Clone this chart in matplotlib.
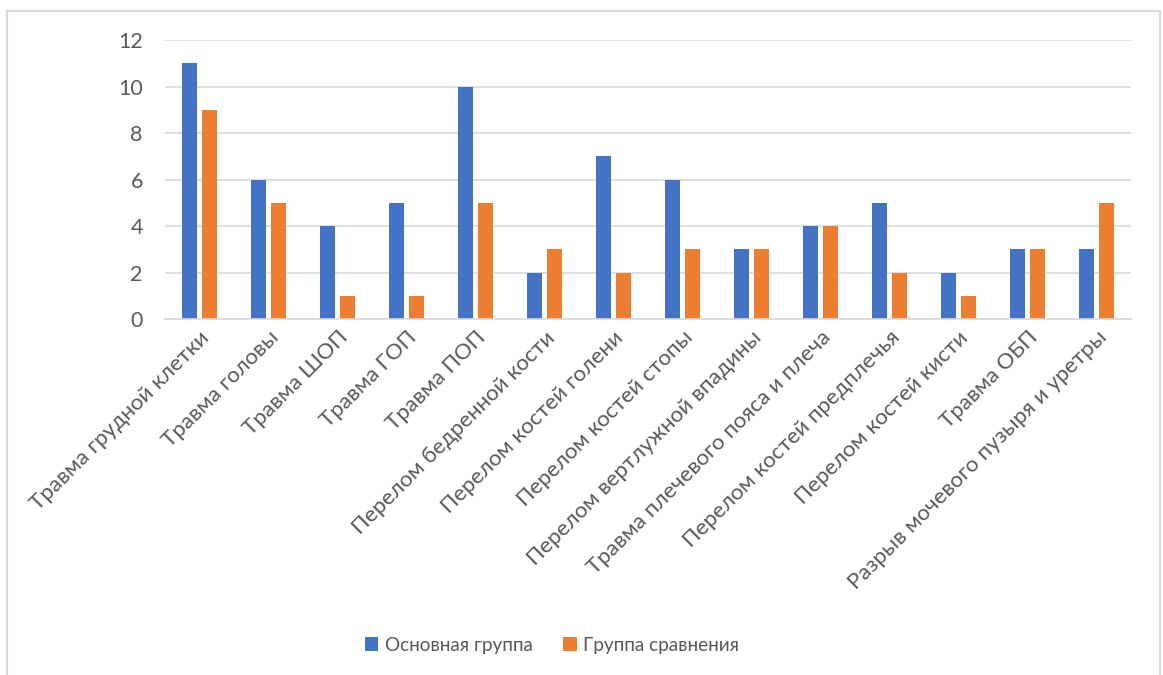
import numpy as np
import matplotlib.pyplot as plt
from matplotlib.patches import Rectangle

plt.rcParams['font.family'] = ['Lato', 'DejaVu Sans']

categories = ['Травма грудной клетки', 'Травма головы', 'Травма ШОП', 'Травма ГОП',
              'Травма ПОП', 'Перелом бедренной кости', 'Перелом костей голени',
              'Перелом костей стопы', 'Перелом вертлужной впадины',
              'Травма плечевого пояса и плеча', 'Перелом костей предплечья',
              'Перелом костей кисти', 'Травма ОБП', 'Разрыв мочевого пузыря и уретры']
main_group = [11, 6, 4, 5, 10, 2, 7, 6, 3, 4, 5, 2, 3, 3]
compare_group = [9, 5, 1, 1, 5, 3, 2, 3, 3, 4, 2, 1, 3, 5]

W, H = 1163, 675
fig = plt.figure(figsize=(W / 100, H / 100), dpi=100)
ax = fig.add_axes([165 / W, 1 - 319 / H, (1131 - 165) / W, (319 - 40) / H])

x = np.arange(len(categories))
bw = 0.22
ax.bar(x - 0.145, main_group, bw, color='#4472c4', label='Основная группа')
ax.bar(x + 0.145, compare_group, bw, color='#ed7d31', label='Группа сравнения')

ax.set_xlim(-0.5, len(categories) - 0.5)
ax.set_ylim(0, 12)
ax.set_yticks(range(0, 13, 2))
ax.yaxis.grid(True, color='#d9d9d9', lw=1.2)
ax.set_axisbelow(True)
for s in ['top', 'right', 'left']:
    ax.spines[s].set_visible(False)
ax.spines['bottom'].set_color('#d9d9d9')
ax.spines['bottom'].set_linewidth(1.2)
ax.tick_params(axis='y', length=0, labelsize=15.5, colors='#595959', pad=16)
ax.set_xticks(x)
ax.set_xticklabels(categories, rotation=45, ha='right', rotation_mode='anchor')
ax.tick_params(axis='x', length=0, labelsize=16, colors='#595959', pad=6)

fig.legend(loc='center', bbox_to_anchor=(552 / W, 1 - 645 / H), ncol=2, frameon=False,
           fontsize=13.6, handlelength=0.72, handleheight=0.72, handletextpad=0.35,
           columnspacing=1.6, labelcolor='#595959')

# frame around the chart
fig.add_artist(Rectangle((7 / W, -0.1), (1160 - 7) / W, 1.1 - 11 / H,
                         transform=fig.transFigure, fill=False,
                         edgecolor='#d9d9d9', lw=1.5))

fig.savefig('out.png', dpi=100)
